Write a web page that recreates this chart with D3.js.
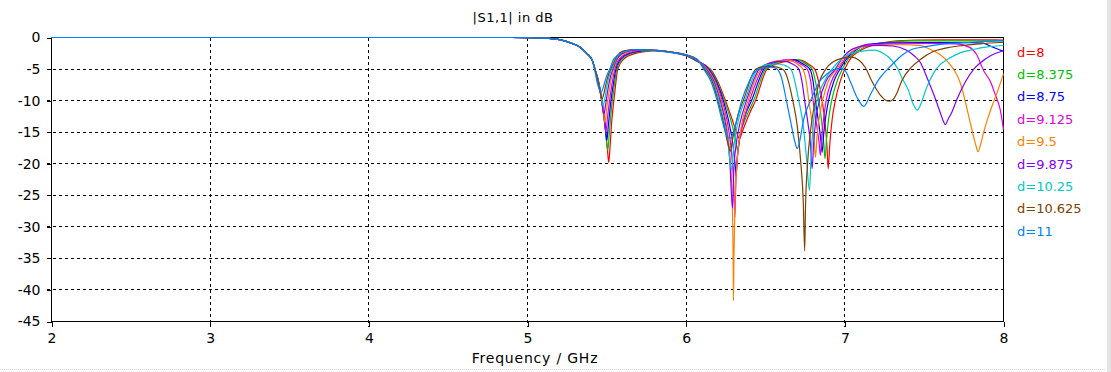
<!DOCTYPE html>
<html><head><meta charset="utf-8">
<script src="https://cdn.jsdelivr.net/npm/d3@7"></script>
<style>
html,body{margin:0;padding:0;background:#fff;}
svg{display:block;}
text{font-family:"DejaVu Sans",sans-serif;}
</style></head>
<body>
<svg id="c" width="1111" height="372"></svg>
<script>
// ---------- data ----------
const freqTicks = [2, 3, 4, 5, 6, 7, 8];
const dbTicks = [0, -5, -10, -15, -20, -25, -30, -35, -40, -45];
const labels = ["d=8", "d=8.375", "d=8.75", "d=9.125", "d=9.5", "d=9.875", "d=10.25", "d=10.625", "d=11"];
const titleText = "|S1,1| in dB";
const xLabelText = "Frequency / GHz";

const s_d8 = [[2,0],[4.9,0],[5.0,-0.03],[5.1,-0.1],[5.2,-0.35],[5.27,-0.85],[5.33,-1.5],[5.376,-2.6],[5.408,-3.6],[5.426,-5.1],[5.45,-7.6],[5.47,-10.5],[5.49,-14.2],[5.503,-17.5],[5.512,-19.8],[5.52,-17.4],[5.532,-13],[5.55,-8.7],[5.569,-5.0],[5.607,-3.4],[5.67,-2.6],[5.75,-2.2],[5.83,-2.1],[5.9,-2.3],[6.0,-2.9],[6.07,-3.8],[6.153,-5.0],[6.2,-7.0],[6.248,-10],[6.29,-13],[6.32,-15.2],[6.335,-16],[6.36,-14.5],[6.40,-12],[6.437,-10],[6.51,-5.0],[6.58,-4.1],[6.65,-3.7],[6.72,-3.6],[6.77,-4.2],[6.81,-5.0],[6.835,-7],[6.857,-10],[6.875,-13.5],[6.888,-17.5],[6.895,-20.8],[6.905,-17],[6.92,-13],[6.94,-10],[6.97,-7],[7.0,-5.0],[7.04,-3.2],[7.09,-2.2],[7.19,-1.1],[7.3,-0.6],[7.45,-0.4],[7.6,-0.37],[7.95,-0.37],[8.0,-0.4]];

const s_d8375 = [[2,0],[4.9,0],[5.0,-0.03],[5.1,-0.1],[5.2,-0.35],[5.27,-0.85],[5.33,-1.5],[5.376,-2.6],[5.408,-3.6],[5.426,-5.1],[5.45,-7.5],[5.47,-10.4],[5.49,-14.5],[5.506,-17.9],[5.516,-15],[5.53,-11],[5.545,-8],[5.563,-5.0],[5.60,-3.3],[5.66,-2.5],[5.74,-2.15],[5.81,-2.05],[5.9,-2.3],[6.0,-2.9],[6.07,-3.75],[6.148,-5],[6.195,-7],[6.241,-10],[6.28,-13],[6.31,-16],[6.325,-18],[6.34,-15.5],[6.38,-12.5],[6.425,-10],[6.50,-5],[6.57,-4.0],[6.64,-3.6],[6.70,-3.5],[6.75,-4.1],[6.794,-5],[6.815,-7],[6.836,-10],[6.855,-13.5],[6.868,-17],[6.875,-19.2],[6.885,-16],[6.90,-12.5],[6.917,-10],[6.95,-7],[6.985,-5],[7.03,-3.1],[7.075,-2.2],[7.17,-1.1],[7.3,-0.7],[7.45,-0.53],[8.0,-0.53]];

const s_d875 = [[2,0],[4.9,0],[5.0,-0.03],[5.1,-0.1],[5.2,-0.35],[5.27,-0.85],[5.33,-1.5],[5.376,-2.6],[5.408,-3.6],[5.426,-5.1],[5.45,-7.4],[5.47,-10.2],[5.488,-13.5],[5.50,-16.3],[5.51,-13.8],[5.525,-10.2],[5.54,-7.5],[5.557,-5],[5.595,-3.2],[5.65,-2.45],[5.72,-2.1],[5.79,-2.0],[5.9,-2.3],[6.0,-2.85],[6.07,-3.7],[6.142,-5],[6.19,-7],[6.234,-10],[6.27,-13.5],[6.295,-17],[6.31,-20.5],[6.315,-22],[6.322,-19],[6.34,-15.5],[6.37,-12.5],[6.412,-10],[6.49,-5],[6.55,-4.0],[6.62,-3.6],[6.68,-3.5],[6.73,-4.1],[6.78,-5],[6.80,-7],[6.815,-10],[6.835,-13.5],[6.85,-16.5],[6.857,-18.2],[6.866,-15.5],[6.88,-12.5],[6.897,-10],[6.93,-7],[6.97,-5],[7.02,-3.1],[7.06,-2.2],[7.14,-1.1],[7.3,-0.85],[7.5,-0.8],[7.8,-0.8],[7.87,-0.9],[7.918,-1.37],[7.97,-1.9],[8.0,-2.2]];

const s_d9125 = [[2,0],[4.9,0],[5.0,-0.03],[5.1,-0.1],[5.2,-0.35],[5.27,-0.85],[5.33,-1.5],[5.376,-2.6],[5.408,-3.6],[5.426,-5.05],[5.45,-7.3],[5.468,-10],[5.484,-13],[5.494,-15],[5.505,-12.5],[5.52,-9.5],[5.535,-7],[5.55,-5],[5.59,-3.1],[5.64,-2.4],[5.71,-2.05],[5.78,-2.0],[5.9,-2.3],[6.0,-2.85],[6.07,-3.65],[6.137,-5],[6.185,-7],[6.227,-10],[6.26,-13.5],[6.285,-18],[6.30,-23.5],[6.307,-28.5],[6.313,-23],[6.325,-18.5],[6.35,-14.5],[6.375,-12],[6.40,-10],[6.48,-5],[6.54,-4.0],[6.60,-3.6],[6.66,-3.5],[6.72,-4.2],[6.763,-5],[6.785,-7],[6.80,-10],[6.82,-13.5],[6.837,-16.5],[6.846,-18.7],[6.855,-15.5],[6.868,-12.5],[6.882,-10],[6.915,-7],[6.96,-5],[7.01,-3.1],[7.05,-2.2],[7.12,-1.2],[7.3,-1.0],[7.55,-0.95],[7.7,-1.0],[7.79,-1.6],[7.83,-2.7],[7.876,-5.3],[7.918,-7.0],[7.95,-9.2],[7.98,-11.5],[8.0,-14.6]];

const s_d95 = [[2,0],[4.9,0],[5.0,-0.03],[5.1,-0.1],[5.2,-0.35],[5.27,-0.85],[5.33,-1.5],[5.376,-2.6],[5.408,-3.6],[5.426,-5.05],[5.45,-7.2],[5.468,-9.8],[5.48,-11.8],[5.488,-13.4],[5.498,-11.5],[5.513,-8.8],[5.528,-6.6],[5.544,-5],[5.58,-3.0],[5.63,-2.3],[5.70,-2.0],[5.77,-2.0],[5.9,-2.3],[6.0,-2.8],[6.07,-3.6],[6.131,-5],[6.18,-7],[6.22,-10],[6.255,-14],[6.277,-19],[6.29,-26],[6.296,-35],[6.298,-41.7],[6.301,-35],[6.307,-27],[6.32,-20],[6.345,-14.5],[6.39,-10],[6.47,-5],[6.53,-4.0],[6.59,-3.65],[6.64,-3.6],[6.70,-4.2],[6.735,-5],[6.757,-7],[6.773,-10],[6.793,-13.5],[6.807,-16.5],[6.815,-19],[6.825,-15.5],[6.84,-12.5],[6.86,-10],[6.895,-7],[6.95,-5],[7.0,-3.2],[7.045,-2.2],[7.1,-1.5],[7.2,-1.2],[7.35,-1.15],[7.477,-1.3],[7.54,-1.9],[7.60,-2.7],[7.645,-3.75],[7.687,-5.1],[7.708,-6.0],[7.73,-7.4],[7.77,-11.3],[7.80,-14.5],[7.825,-17],[7.84,-18.1],[7.855,-17],[7.875,-15],[7.90,-12.9],[7.93,-10.7],[7.96,-8.7],[8.0,-5.75]];

const s_d9875 = [[2,0],[4.9,0],[5.0,-0.03],[5.1,-0.1],[5.2,-0.35],[5.27,-0.85],[5.33,-1.5],[5.376,-2.6],[5.408,-3.6],[5.426,-5.05],[5.45,-7.2],[5.466,-9.6],[5.482,-12.1],[5.493,-10.5],[5.507,-8.2],[5.522,-6.3],[5.538,-5],[5.575,-3.0],[5.62,-2.25],[5.69,-1.95],[5.76,-2.0],[5.9,-2.3],[6.0,-2.8],[6.07,-3.6],[6.126,-5],[6.175,-7],[6.214,-10],[6.25,-14],[6.275,-19.5],[6.292,-27],[6.30,-21],[6.315,-17],[6.34,-13.5],[6.38,-10],[6.46,-5],[6.52,-4.1],[6.57,-3.8],[6.615,-3.75],[6.67,-4.2],[6.71,-5],[6.73,-7],[6.747,-10],[6.767,-13.5],[6.784,-17],[6.794,-20.8],[6.803,-17],[6.817,-13],[6.84,-10],[6.88,-7],[6.94,-5],[6.97,-3.8],[7.0,-2.8],[7.05,-1.8],[7.12,-1.35],[7.22,-1.25],[7.3,-1.35],[7.38,-1.9],[7.435,-2.85],[7.477,-4.0],[7.52,-6.5],[7.56,-9],[7.60,-11.8],[7.62,-13.2],[7.634,-13.8],[7.65,-13.0],[7.675,-11.8],[7.708,-9.7],[7.76,-7.0],[7.813,-5],[7.855,-4.0],[7.918,-2.9],[8.0,-2.1]];

const s_d1025 = [[2,0],[4.9,0],[5.0,-0.03],[5.1,-0.1],[5.2,-0.35],[5.27,-0.85],[5.33,-1.5],[5.376,-2.6],[5.408,-3.6],[5.425,-5.0],[5.448,-7.2],[5.463,-9.2],[5.476,-10.8],[5.488,-9.6],[5.50,-7.8],[5.515,-6.1],[5.532,-5],[5.57,-2.9],[5.61,-2.2],[5.68,-1.9],[5.75,-1.95],[5.9,-2.3],[6.0,-2.75],[6.07,-3.55],[6.121,-5],[6.17,-7],[6.207,-10],[6.24,-13.5],[6.265,-17],[6.286,-21],[6.295,-18.5],[6.31,-15.5],[6.335,-12.5],[6.37,-10],[6.45,-5],[6.51,-4.3],[6.57,-4.2],[6.62,-4.4],[6.66,-5],[6.71,-10],[6.738,-14],[6.758,-19],[6.777,-24.2],[6.787,-19],[6.80,-14],[6.825,-10],[6.87,-7],[6.92,-5],[6.97,-3.6],[7.02,-2.7],[7.1,-2.2],[7.19,-2.0],[7.24,-2.5],[7.28,-3.2],[7.335,-5],[7.36,-6.4],[7.40,-8.3],[7.43,-10.5],[7.456,-11.5],[7.48,-10.5],[7.51,-8.3],[7.56,-5.6],[7.60,-4.3],[7.645,-3.5],[7.73,-2.4],[7.81,-1.9],[7.90,-1.5],[8.0,-1.27]];

const s_d10625 = [[2,0],[4.9,0],[5.0,-0.03],[5.1,-0.1],[5.2,-0.35],[5.27,-0.85],[5.33,-1.5],[5.376,-2.6],[5.408,-3.6],[5.424,-5.0],[5.447,-7.2],[5.46,-8.8],[5.47,-9.7],[5.482,-8.8],[5.495,-7.3],[5.51,-5.9],[5.525,-5],[5.565,-2.9],[5.60,-2.15],[5.67,-1.9],[5.74,-1.95],[5.9,-2.3],[6.0,-2.75],[6.07,-3.5],[6.115,-5],[6.165,-7],[6.20,-10],[6.235,-13.5],[6.26,-16.5],[6.28,-18],[6.29,-16.5],[6.31,-14],[6.33,-12],[6.36,-10],[6.44,-5],[6.50,-4.6],[6.55,-4.6],[6.60,-4.9],[6.626,-5.6],[6.65,-7.5],[6.672,-10],[6.70,-14],[6.723,-20],[6.738,-26],[6.747,-33.8],[6.752,-27],[6.765,-20],[6.785,-14.5],[6.81,-10.5],[6.84,-7],[6.88,-5],[6.93,-3.8],[6.98,-3.3],[7.04,-3.1],[7.09,-3.6],[7.13,-4.8],[7.17,-6.9],[7.22,-9.0],[7.255,-9.9],[7.28,-10.1],[7.305,-9.8],[7.33,-8.7],[7.36,-6.8],[7.42,-4.7],[7.48,-3.4],[7.55,-2.3],[7.65,-1.6],[7.75,-1.25],[7.85,-1.0],[8.0,-0.75]];

const s_d11 = [[2,0],[4.9,0],[5.0,-0.03],[5.1,-0.1],[5.2,-0.35],[5.27,-0.85],[5.33,-1.5],[5.376,-2.6],[5.408,-3.6],[5.422,-5.0],[5.439,-7.1],[5.455,-8.4],[5.464,-8.7],[5.475,-8.1],[5.49,-6.8],[5.505,-5.7],[5.519,-5.0],[5.544,-3.4],[5.607,-2.3],[5.67,-1.9],[5.74,-1.95],[5.85,-2.2],[5.95,-2.55],[6.0,-2.75],[6.07,-3.45],[6.11,-5],[6.16,-7.2],[6.195,-10],[6.23,-13.5],[6.255,-15.5],[6.275,-16],[6.295,-15.2],[6.32,-13],[6.35,-10],[6.40,-6.8],[6.43,-5.5],[6.48,-4.85],[6.54,-4.7],[6.573,-5],[6.60,-6.3],[6.632,-10],[6.66,-13.5],[6.685,-16.5],[6.70,-17.6],[6.715,-16.5],[6.74,-13],[6.784,-10],[6.846,-6.8],[6.889,-5.75],[6.93,-5.1],[6.97,-4.9],[7.0,-5.2],[7.035,-7.0],[7.077,-9.5],[7.12,-10.9],[7.162,-9.0],[7.21,-6.8],[7.27,-5.0],[7.31,-4.0],[7.36,-2.8],[7.42,-1.9],[7.51,-1.45],[7.6,-1.1],[7.8,-0.75],[8.0,-0.5]];

const seriesData = [s_d8, s_d8375, s_d875, s_d9125, s_d95, s_d9875, s_d1025, s_d10625, s_d11];

// ---------- styles ----------
const colors = ["#ff0000", "#00c000", "#0000ff", "#e000e0", "#ff8000", "#8000ff", "#00c8c8", "#804000", "#0080ff"];

// ---------- drawing ----------
const svg = d3.select("#c");
svg.append("rect").attr("width", 1111).attr("height", 372).attr("fill", "#fff");

const x = d3.scaleLinear().domain([2, 8]).range([51.5, 1003.5]);
const y = d3.scaleLinear().domain([-45, 0]).range([321.5, 37.5]);

// grid
const grid = svg.append("g").attr("stroke", "#000").attr("stroke-dasharray", "3,3").attr("shape-rendering", "crispEdges");
grid.selectAll("line.v").data(freqTicks.slice(1, -1)).join("line")
  .attr("x1", d => Math.round(x(d) - 0.5) + 0.5).attr("x2", d => Math.round(x(d) - 0.5) + 0.5)
  .attr("y1", y(0)).attr("y2", y(-45) + 5);
grid.selectAll("line.h").data(dbTicks.slice(1, -1)).join("line")
  .attr("y1", d => Math.round(y(d) - 0.5) + 0.5).attr("y2", d => Math.round(y(d) - 0.5) + 0.5)
  .attr("x1", x(2) - 5).attr("x2", x(8));

// axes (ticks + labels)
const yAxis = d3.axisLeft(y).tickValues(dbTicks).tickSize(5).tickPadding(6).tickFormat(d => d);
const xAxis = d3.axisBottom(x).tickValues(freqTicks).tickSize(5).tickPadding(7).tickFormat(d => d);
const gy = svg.append("g").attr("transform", "translate(51.5,0)").call(yAxis);
const gx = svg.append("g").attr("transform", "translate(0,321.5)").call(xAxis);
[gx, gy].forEach(g => {
  g.select(".domain").remove();
  g.selectAll("line").attr("stroke", "#000").attr("shape-rendering", "crispEdges");
  g.selectAll("text").attr("font-family", "DejaVu Sans").attr("font-size", 14).attr("fill", "#000");
});

// frame
svg.append("rect").attr("x", 51.5).attr("y", 37.5).attr("width", 952).attr("height", 284)
  .attr("fill", "none").attr("stroke", "#000").attr("shape-rendering", "crispEdges");

// curves
const line = d3.line().x(d => x(d[0])).y(d => y(d[1])).curve(d3.curveMonotoneX);
svg.append("g").selectAll("path").data(seriesData).join("path")
  .attr("d", line).attr("fill", "none")
  .attr("stroke", (d, i) => colors[i]).attr("stroke-width", 1.2);

// title and axis label
svg.append("text").attr("x", 513).attr("y", 22).attr("text-anchor", "middle")
  .attr("font-size", 13).attr("letter-spacing", 0.5).text(titleText);
svg.append("text").attr("x", 535).attr("y", 363).attr("text-anchor", "middle")
  .attr("font-size", 14).attr("letter-spacing", 0.8).text(xLabelText);

// legend
svg.append("g").selectAll("text").data(labels).join("text")
  .attr("x", 1017).attr("y", (d, i) => 56.5 + i * 22.4)
  .attr("font-size", 13).attr("fill", (d, i) => colors[i]).text(d => d);

// faint window edge
svg.append("line").attr("x1", 0).attr("x2", 1106).attr("y1", 369.5).attr("y2", 369.5)
  .attr("stroke", "#d8d8d8").attr("stroke-dasharray", "1,1");
svg.append("rect").attr("x", 1107).attr("y", 0).attr("width", 4).attr("height", 372).attr("fill", "#e4e4e4");
</script>
</body></html>
